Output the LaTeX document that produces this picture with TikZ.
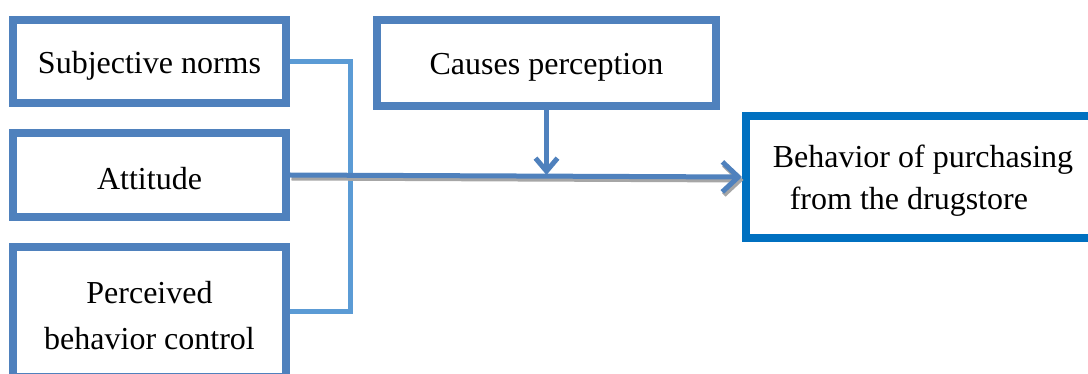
\documentclass[tikz,border=0pt]{standalone}
\usepackage{fontspec}
\setmainfont{Liberation Serif}
\usetikzlibrary{arrows.meta}
\definecolor{boxblue}{HTML}{4F81BD}
\definecolor{brightblue}{HTML}{0070C0}
\definecolor{lightblue}{HTML}{5B9BD5}
\definecolor{shadowgray}{HTML}{A6A6A6}
\newcommand\dnline[1]{\raisebox{-4pt}[\height][\depth]{#1}}
\begin{document}
\begin{tikzpicture}[x=1pt,y=1pt,
  box/.style={draw=boxblue, line width=8pt, fill=white, rectangle, inner sep=0pt,
    font=\fontsize{32}{44}\selectfont, align=center},
  conn/.style={draw=lightblue, line width=5pt},
  mainarrow/.style={draw=boxblue, line width=5pt, -{Straight Barb[length=16pt,width=30pt]}},
  shadowarrow/.style={draw=shadowgray, line width=5pt, -{Straight Barb[length=16pt,width=30pt]}},
  downarrow/.style={draw=boxblue, line width=5pt, -{Straight Barb[length=13pt,width=22pt]}}
]
\useasboundingbox (0,0) rectangle (1088,-374);
\node[box, minimum width=273pt, minimum height=83pt] (sn) at (149.5,-61.5) {\dnline{Subjective norms}};
\node[box, minimum width=273pt, minimum height=84pt] (att) at (149.5,-175) {\dnline{Attitude}};
\node[box, minimum width=273pt, minimum height=130pt, font=\fontsize{32}{46}\selectfont] (pbc) at (149.5,-312) {\dnline{Perceived}\\\dnline{behavior control}};
\node[box, minimum width=339pt, minimum height=86pt] (cp) at (546.5,-63) {\dnline{Causes perception}};
\node[box, draw=brightblue, minimum width=354pt, minimum height=122pt, align=left, font=\fontsize{32}{42}\selectfont] (beh) at (923,-177) {\dnline{Behavior of purchasing}\\\dnline{\hspace*{17pt}from the drugstore}};
\coordinate (jx) at (350,0);
\draw[conn] (sn.east) -- (sn.east -| jx) -- (pbc.east -| jx) -- (pbc.east);
\coordinate (jn) at (cp.south |- att.east);
\draw[shadowarrow, transform canvas={shift={(1.5pt,-3pt)}}] (att.east) -- (beh.west);
\draw[mainarrow] (att.east) -- (beh.west);
\draw[downarrow] (cp.south) -- (jn);
\end{tikzpicture}
\end{document}
